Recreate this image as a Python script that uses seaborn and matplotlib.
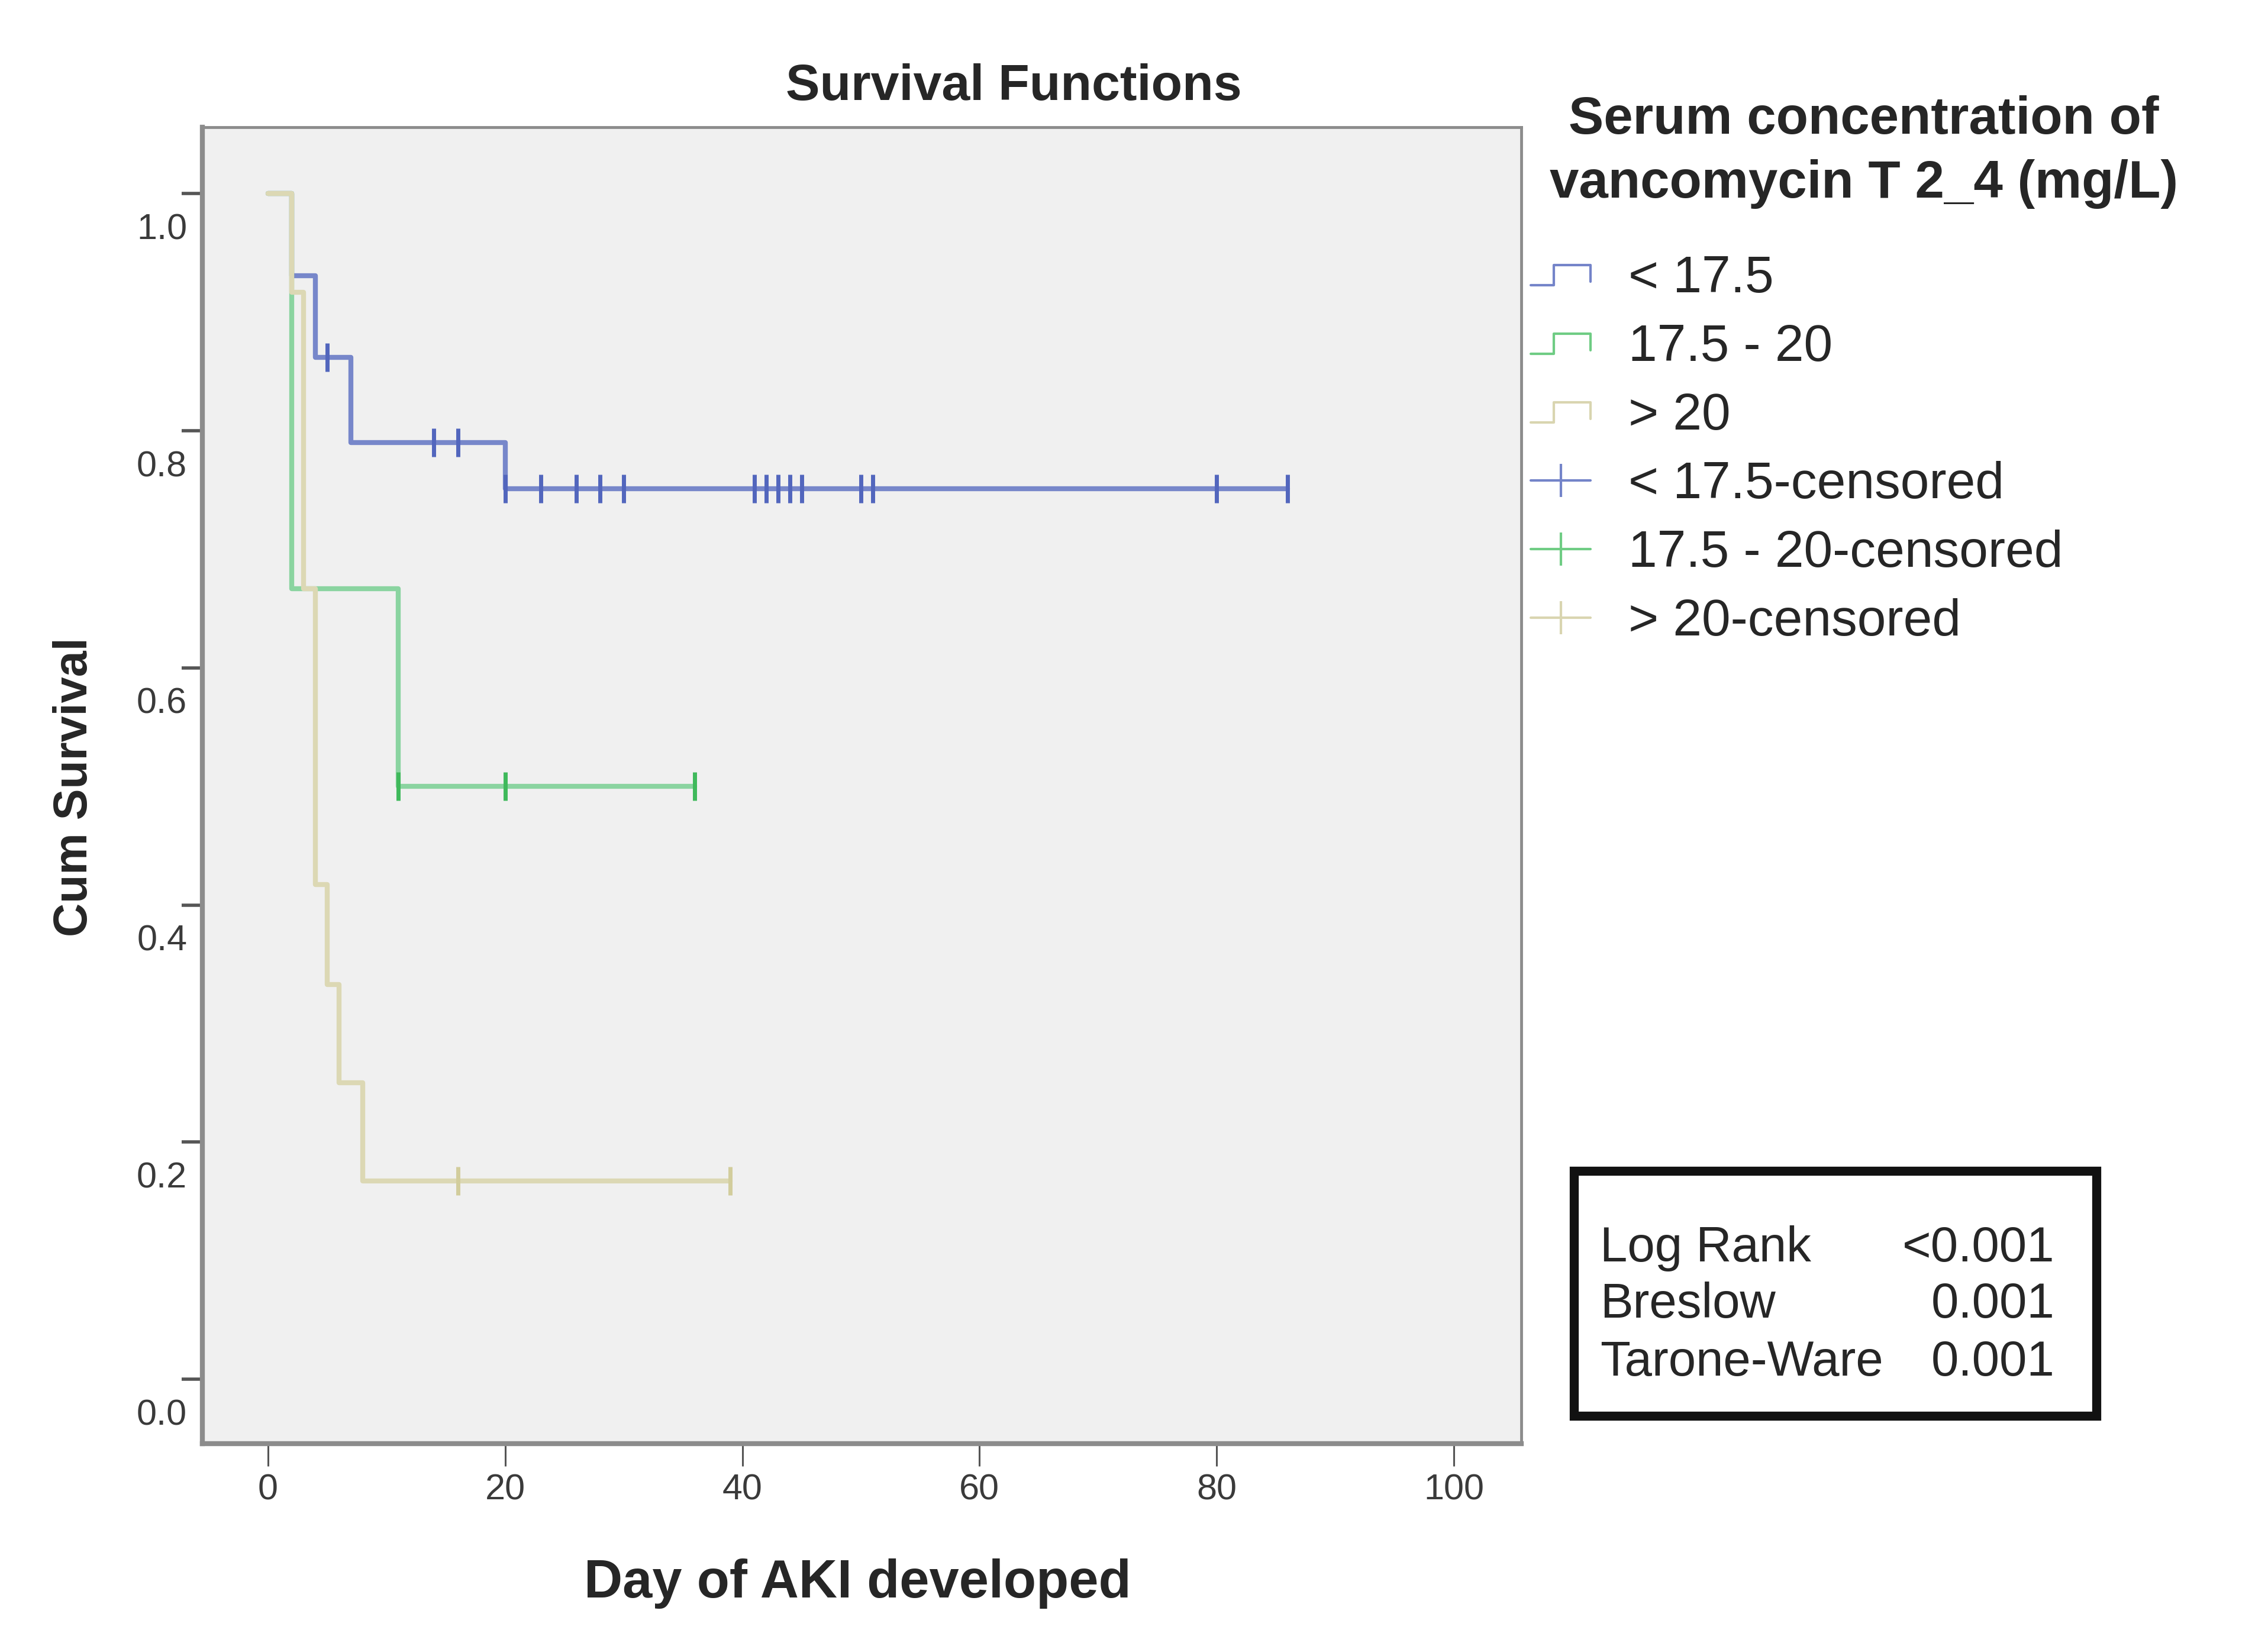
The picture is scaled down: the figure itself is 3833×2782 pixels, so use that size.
import numpy as np
import pandas as pd
import seaborn as sns
import matplotlib
matplotlib.use('Agg')
import matplotlib.pyplot as plt
from matplotlib import font_manager
from matplotlib.legend_handler import HandlerBase
from matplotlib.lines import Line2D
from matplotlib.patches import Rectangle
from matplotlib.transforms import ScaledTranslation

groups = ['< 17.5', '17.5 - 20', '> 20']

# step times (days) and cumulative survival
low_times = [0, 2, 4, 7, 20]
low_surv = [1.0, 0.931, 0.862, 0.790, 0.751]
low_censored = [5, 14, 16, 20, 23, 26, 28, 30, 41, 42, 43, 44, 45, 50, 51, 80, 86]

mid_times = [0, 2, 11]
mid_surv = [1.0, 0.667, 0.500]
mid_censored = [11, 20, 36]

high_times = [0, 2, 3, 4, 5, 6, 8]
high_surv = [1.0, 0.917, 0.667, 0.417, 0.333, 0.250, 0.167]
high_censored = [16, 39]

line_colors = ['#7787ca', '#8ad4a0', '#dcd8b4']
mark_colors = ['#5266bd', '#3fb95b', '#d2cd9c']
legend_colors = ['#7484c9', '#6fcc84', '#d9d5b0']

x_ticks = [0, 20, 40, 60, 80, 100]
y_ticks = [0.0, 0.2, 0.4, 0.6, 0.8, 1.0]

test_names = ['Log Rank', 'Breslow', 'Tarone-Ware']
test_values = ['<0.001', '0.001', '0.001']


def curve_frame(times, surv, censored):
    t = list(times) + [max(censored)]
    s = list(surv) + [surv[-1]]
    steps = pd.DataFrame({'day': t, 'survival': s})
    idx = np.searchsorted(times, censored, side='right') - 1
    marks = pd.DataFrame({'day': censored, 'survival': np.array(surv)[idx]})
    return steps, marks


class StepHandler(HandlerBase):
    # little "step" glyph like the SPSS legend
    def create_artists(self, legend, orig_handle, xdescent, ydescent,
                       width, height, fontsize, trans):
        x0, y0 = -xdescent, -ydescent
        xs = [x0, x0 + 0.38 * width, x0 + 0.38 * width, x0 + width, x0 + width]
        ys = [y0 + 0.2 * height, y0 + 0.2 * height, y0 + 0.75 * height,
              y0 + 0.75 * height, y0 + 0.3 * height]
        line = Line2D(xs, ys, color=orig_handle.get_color(),
                      lw=orig_handle.get_linewidth(), transform=trans)
        return [line]


sns.set_theme(style='white')
plt.rcParams['font.family'] = ['Liberation Sans', 'DejaVu Sans']

names = {f.name for f in font_manager.fontManager.ttflist}
tick_font = 'Liberation Sans Narrow' if 'Liberation Sans Narrow' in names else 'Liberation Sans'

fig = plt.figure(figsize=(38.33, 27.82), dpi=100)
ax = fig.add_axes([0.0892, 0.1229, 0.5816, 0.7998])
ax.set_facecolor('#f0f0f0')

curves = [curve_frame(low_times, low_surv, low_censored),
          curve_frame(mid_times, mid_surv, mid_censored),
          curve_frame(high_times, high_surv, high_censored)]

for (steps, marks), lc, mc in zip(curves, line_colors, mark_colors):
    sns.lineplot(data=steps, x='day', y='survival', drawstyle='steps-post',
                 color=lc, lw=6, estimator=None, sort=False, ax=ax)
    sns.scatterplot(data=marks, x='day', y='survival', marker='|', s=1150,
                    linewidth=5, color=mc, zorder=3, ax=ax)

ax.set(xlabel='', ylabel='')
ax.set_xlim(-5.54, 105.7)
ax.set_ylim(-0.0544, 1.056)
ax.set_xticks(x_ticks)
ax.set_yticks(y_ticks)
ax.set_xticklabels([str(v) for v in x_ticks], fontfamily=tick_font, fontsize=44, color='#3a3a3a')
ax.set_yticklabels(['%.1f' % v for v in y_ticks], fontfamily=tick_font, fontsize=44, color='#3a3a3a')
ax.tick_params(axis='y', left=True, length=25, width=4, color='#555555', pad=0)
ax.tick_params(axis='x', bottom=True, length=27, width=2.2, color='#555555', pad=9)

# SPSS puts the y labels a bit below their ticks
shift = ScaledTranslation(0.09, -0.55, fig.dpi_scale_trans)
for lab in ax.get_yticklabels():
    lab.set_transform(lab.get_transform() + shift)

for side in ['left', 'bottom']:
    ax.spines[side].set_linewidth(6)
    ax.spines[side].set_color('#8c8c8c')
for side in ['top', 'right']:
    ax.spines[side].set_linewidth(3.5)
    ax.spines[side].set_color('#8c8c8c')

fig.text(0.447, 0.947, 'Survival Functions', ha='center', va='center',
         fontsize=62, fontweight='bold')
fig.text(0.378, 0.038, 'Day of AKI developed', ha='center', va='center',
         fontsize=65, fontweight='bold')
fig.text(0.0331, 0.522, 'Cum Survival', ha='center', va='center', rotation=90,
         fontsize=57, fontweight='bold')

# legend
fig.text(0.8218, 0.942, 'Serum concentration of\nvancomycin T 2_4 (mg/L)',
         ha='center', va='top', multialignment='center', linespacing=1.36,
         fontsize=64, fontweight='bold')

step_handles = [Line2D([], [], color=c, lw=3) for c in legend_colors]
cens_handles = [Line2D([], [], color=c, lw=3, marker='|', markersize=40, mew=3)
                for c in legend_colors]
labels = groups + [g + '-censored' for g in groups]
ax.legend(step_handles + cens_handles, labels,
          handler_map={h: StepHandler() for h in step_handles},
          loc='upper left', bbox_to_anchor=(0.675, 0.845), bbox_transform=fig.transFigure,
          frameon=False, fontsize=63, handlelength=1.15, handletextpad=0.73,
          labelspacing=0.40, borderpad=0, borderaxespad=0, numpoints=1)

# test statistics box
fig.patches.append(Rectangle((0.694, 0.1398), 0.2303, 0.1489, transform=fig.transFigure,
                             fill=False, edgecolor='#111111', lw=11, figure=fig))
row_y = [0.2337, 0.1995, 0.1643]
for name, val, y in zip(test_names, test_values, row_y):
    fig.text(0.7055, y, name, ha='left', va='baseline', fontsize=60)
    fig.text(0.906, y, val, ha='right', va='baseline', fontsize=60)

fig.savefig('out.png', dpi=100)
